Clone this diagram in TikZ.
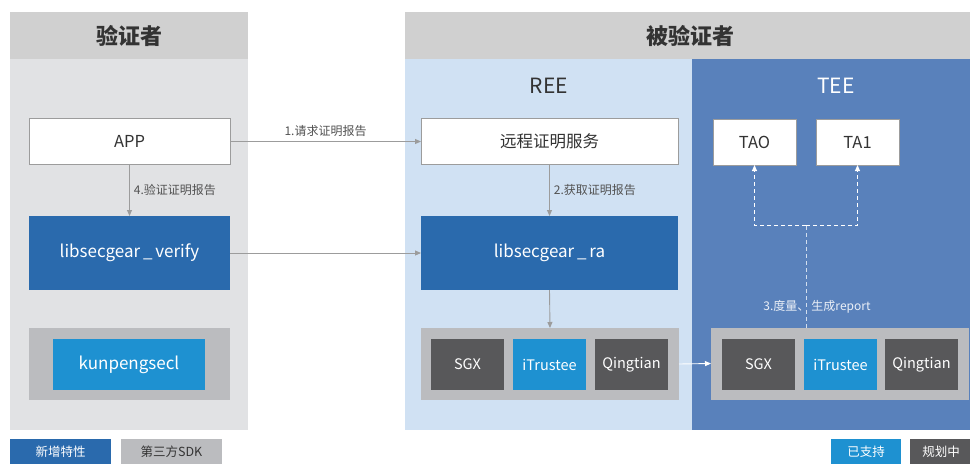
\documentclass[tikz,border=0pt]{standalone}
\usepackage{fontspec}
\setmainfont{Noto Sans CJK SC}
\usetikzlibrary{arrows.meta}
\definecolor{hdrgray}{HTML}{D0D0D0}
\definecolor{leftbg}{HTML}{E1E2E4}
\definecolor{reebg}{HTML}{D0E1F3}
\definecolor{teebg}{HTML}{5981BB}
\definecolor{darkblue}{HTML}{2A6AAD}
\definecolor{lightblue}{HTML}{1E91D1}
\definecolor{darkgray}{HTML}{58585A}
\definecolor{sdkgray}{HTML}{BBBCBF}
\definecolor{linegray}{HTML}{9C9C9C}
\definecolor{txt}{HTML}{333333}
\definecolor{dashlight}{HTML}{D2DEEE}
\tikzset{
  whitebox/.style={draw=linegray, line width=0.8pt, fill=white, inner sep=0, outer sep=0, text=txt, font=\fontsize{16.5}{19}\selectfont},
  bluebox/.style={fill=darkblue, inner sep=0, outer sep=0, text=white, font=\fontsize{17}{20}\selectfont},
  lbbox/.style={fill=lightblue, inner sep=0, outer sep=0, text=white, font=\fontsize{14.5}{17}\selectfont},
  dgbox/.style={fill=darkgray, inner sep=0, outer sep=0, text=white, font=\fontsize{14.5}{17}\selectfont},
  sdkbox/.style={fill=sdkgray, inner sep=0, outer sep=0},
  conn/.style={draw=linegray, line width=0.9pt, -{Triangle[length=6pt,width=5pt]}},
  wconn/.style={draw=white, line width=0.9pt, -{Triangle[length=6pt,width=5pt]}},
  dconn/.style={draw=white, line width=0.9pt, dash pattern=on 4pt off 3pt, -{Triangle[length=6pt,width=5pt]}},
  lbl/.style={text=txt!85, font=\fontsize{12}{14}\selectfont, inner sep=1pt},
  hdr/.style={text=txt, font=\fontsize{22}{26}\selectfont\bfseries},
  sub/.style={text=txt, font=\fontsize{21}{24}\selectfont},
  legend/.style={inner sep=0, outer sep=0, font=\fontsize{12.5}{14}\selectfont, minimum height=25pt}
}
\begin{document}
\begin{tikzpicture}[x=1pt,y=-1pt]
\useasboundingbox (0,0) rectangle (970,464);
\fill[white] (0,0) rectangle (970,464);
% regions
\fill[leftbg] (10,12) rectangle (248,430);
\fill[hdrgray] (10,12) rectangle (248,59);
\fill[hdrgray] (405,12) rectangle (975,59);
\fill[reebg] (405,59) rectangle (692,430);
\fill[teebg] (692,59) rectangle (975,430);
\node[hdr] (hverifier) at (129,36) {验证者};
\node[hdr] (hverified) at (690,36) {被验证者};
\node[sub] (ree) at (549,86) {REE};
\node[sub, text=white] (tee) at (836,86) {TEE};
% left column
\node[whitebox, minimum width=201pt, minimum height=46pt] (app) at (129.5,141.5) {APP};
\node[bluebox, minimum width=201pt, minimum height=74pt] (verify) at (129.5,253) {libsecgear\,\_\,verify};
\node[sdkbox, minimum width=201pt, minimum height=72pt] (lsdk) at (129.5,364) {};
\node[lbbox, minimum width=152pt, minimum height=51pt, font=\fontsize{17}{20}\selectfont] (kp) at (129,364.5) {kunpengsecl};
% REE column
\node[whitebox, minimum width=257pt, minimum height=46pt] (ras) at (549.5,141.5) {远程证明服务};
\node[bluebox, minimum width=257pt, minimum height=74pt] (ra) at (549.5,253) {libsecgear\,\_\,ra};
\node[sdkbox, minimum width=258pt, minimum height=72pt] (rsdk) at (550,364) {};
\node[dgbox, minimum width=73pt, minimum height=51pt] (rsgx) at (467.5,364.5) {SGX};
\node[lbbox, minimum width=73pt, minimum height=51pt] (rit) at (549.5,364.5) {iTrustee};
\node[dgbox, minimum width=73pt, minimum height=51pt] (rqt) at (631.5,364.5) {Qingtian};
% TEE column
\node[whitebox, minimum width=83pt, minimum height=46pt] (tao) at (754.5,142) {TAO};
\node[whitebox, minimum width=83pt, minimum height=46pt] (ta1) at (857.5,142) {TA1};
\node[sdkbox, minimum width=258pt, minimum height=72pt] (tsdk) at (840,363.5) {};
\node[dgbox, minimum width=73pt, minimum height=51pt] (tsgx) at (758.5,364.5) {SGX};
\node[lbbox, minimum width=73pt, minimum height=51pt] (tit) at (840.5,364.5) {iTrustee};
\node[dgbox, minimum width=73pt, minimum height=51pt] (tqt) at (921.5,364.5) {Qingtian};
% connectors
\draw[conn] (app.east) -- node[lbl, above=3pt] (l1) {1.请求证明报告} (ras.west);
\draw[conn] (verify.east) -- (ra.west);
\draw[conn] (app.south) -- node[lbl, right=3pt] (l4) {4.验证证明报告} (verify.north);
\draw[conn] (ras.south) -- node[lbl, right=3pt] (l2) {2.获取证明报告} (ra.north);
\draw[conn] (ra.south) -- (rsdk.north);
\draw[wconn] (rsdk.east) -- (tsdk.west);
\coordinate (j) at (806,225);
\draw[draw=dashlight, line width=0.9pt, dash pattern=on 4pt off 3pt] (tsdk.north -| j) -- (j);
\draw[dconn] (j) -| (tao.south);
\draw[dconn] (j) -| (ta1.south);
\node[lbl, text=white!88!teebg] (l3) at (817,307) {3.度量、\hspace{2pt}生成report};
% legend
\node[legend, fill=darkblue, text=white, minimum width=101pt] (lg1) at (60.5,451.5) {新增特性};
\node[legend, fill=sdkgray, text=txt, minimum width=101pt] (lg2) at (171.5,451.5) {第三方SDK};
\node[legend, fill=lightblue, text=white, minimum width=70pt] (lg3) at (866,451.5) {已支持};
\node[legend, fill=darkgray, text=white, minimum width=62pt, anchor=west] (lg4) at (910,451.5) {规划中};
\end{tikzpicture}
\end{document}
